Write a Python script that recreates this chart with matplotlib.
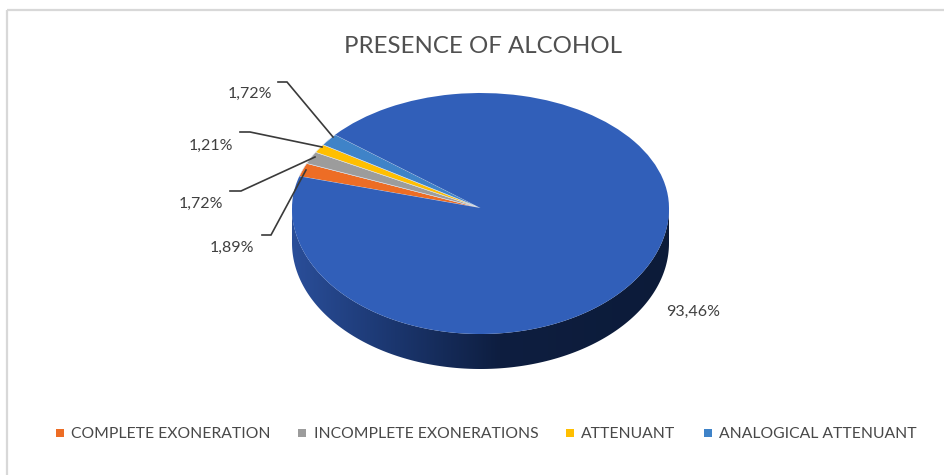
import numpy as np
import matplotlib
matplotlib.use("Agg")
import matplotlib.pyplot as plt
from matplotlib.patches import Polygon

W, H = 945, 475
plt.rcParams['font.family'] = ['Lato', 'DejaVu Sans']

categories = ["COMPLETE EXONERATION", "INCOMPLETE EXONERATIONS", "ATTENUANT", "ANALOGICAL ATTENUANT"]
small_values = [1.89, 1.72, 1.21, 1.72]
main_value = 93.46
small_colors = ["#ED6D25", "#9C9C9C", "#FFBF00", "#3F83C8"]
main_color = "#315FB9"

# pie geometry in image pixels (y down)
cx, cy = 480.5, 208
rx, ry_top, ry_bot = 188.5, 115, 126
depth = 35

fig = plt.figure(figsize=(W / 100, H / 100), dpi=100, facecolor="white")

# pixel axes for everything that is not the pie itself
bg = fig.add_axes([0, 0, 1, 1], zorder=0)
bg.set_xlim(0, W)
bg.set_ylim(H, 0)
bg.axis("off")

bg.plot([7, 7], [H, 10], color="#D8D8D8", lw=1.6, solid_capstyle="butt")
bg.plot([7, W], [10, 10], color="#D8D8D8", lw=1.6, solid_capstyle="butt")

# side wall with a left to right gradient
t = np.linspace(np.pi, 0, 200)
ex = cx + rx * np.cos(t)
ey = cy + ry_bot * np.sin(t)
wall = Polygon(np.r_[np.c_[ex, ey], np.c_[ex, ey + depth][::-1]], closed=True, fc="none", ec="none")
bg.add_patch(wall)
stops = np.array([[0x2A, 0x4E, 0x99], [0x1C, 0x38, 0x72], [0x0E, 0x1E, 0x40], [0x0C, 0x1B, 0x39]]) / 255
pos = [0, 0.25, 0.55, 1]
xs = np.linspace(0, 1, 256)
grad = np.stack([np.interp(xs, pos, stops[:, i]) for i in range(3)], axis=-1)[None, :, :]
im = bg.imshow(grad, extent=[cx - rx, cx + rx, cy + ry_bot + depth, cy], aspect="auto", zorder=1)
im.set_clip_path(wall)
bg.set_xlim(0, W)
bg.set_ylim(H, 0)

# front of the top face is a bit deeper than the back (perspective)
bg.fill(ex, ey, color=main_color, lw=0, zorder=2)

# pie
pie_ax = fig.add_axes([(cx - rx) / W, 1 - (cy + ry_top) / H, 2 * rx / W, 2 * ry_top / H], zorder=1)
wedges, _ = pie_ax.pie(small_values + [main_value], colors=small_colors + [main_color], startangle=164,
                       counterclock=False, wedgeprops=dict(linewidth=0))
for w in wedges[:-1]:
    w.set_edgecolor("#DDE3EE")
    w.set_linewidth(0.4)
pie_ax.set_aspect("auto")
pie_ax.set_xlim(-1, 1)
pie_ax.set_ylim(-1, 1)
pie_ax.patch.set_alpha(0)

# leaders and labels
top = fig.add_axes([0, 0, 1, 1], zorder=2)
top.set_xlim(0, W)
top.set_ylim(H, 0)
top.axis("off")
leaders = [
    ([271, 262], [235, 235], 306, 170),
    ([241, 230], [191, 191], 315, 157),
    ([250, 240], [132, 132], 322, 147),
    ([287, 278], [82, 82], 333, 137),
]
label_pos = [(232, 247.5), (201, 203.5), (211, 145.5), (250, 93.5)]
for (lx, ly, ex2, ey2), v, (tx, ty) in zip(leaders, small_values, label_pos):
    top.plot([ex2] + lx, [ey2] + ly, color="#3A3A3A", lw=1.2, solid_joinstyle="miter")
    top.text(tx, ty, f"{v:.2f}%".replace(".", ","), ha="center", va="center", fontsize=11.5, color="#404040")
top.text(693, 311.5, f"{main_value:.2f}%".replace(".", ","), ha="center", va="center", fontsize=11.5, color="#404040")

top.text(483.5, 46.5, "PRESENCE OF ALCOHOL", ha="center", va="center", fontsize=17.3, color="#505050")

# legend
legend_x = [(60, 71), (302, 314), (570, 581), (708, 719)]
for (mx, tx), name, c in zip(legend_x, categories, small_colors):
    top.scatter([mx], [433], marker="s", s=28, color=c, lw=0)
    top.text(tx, 434.5, name, ha="left", va="center", fontsize=11.3, color="#484848")

fig.savefig("out.png", dpi=100)
